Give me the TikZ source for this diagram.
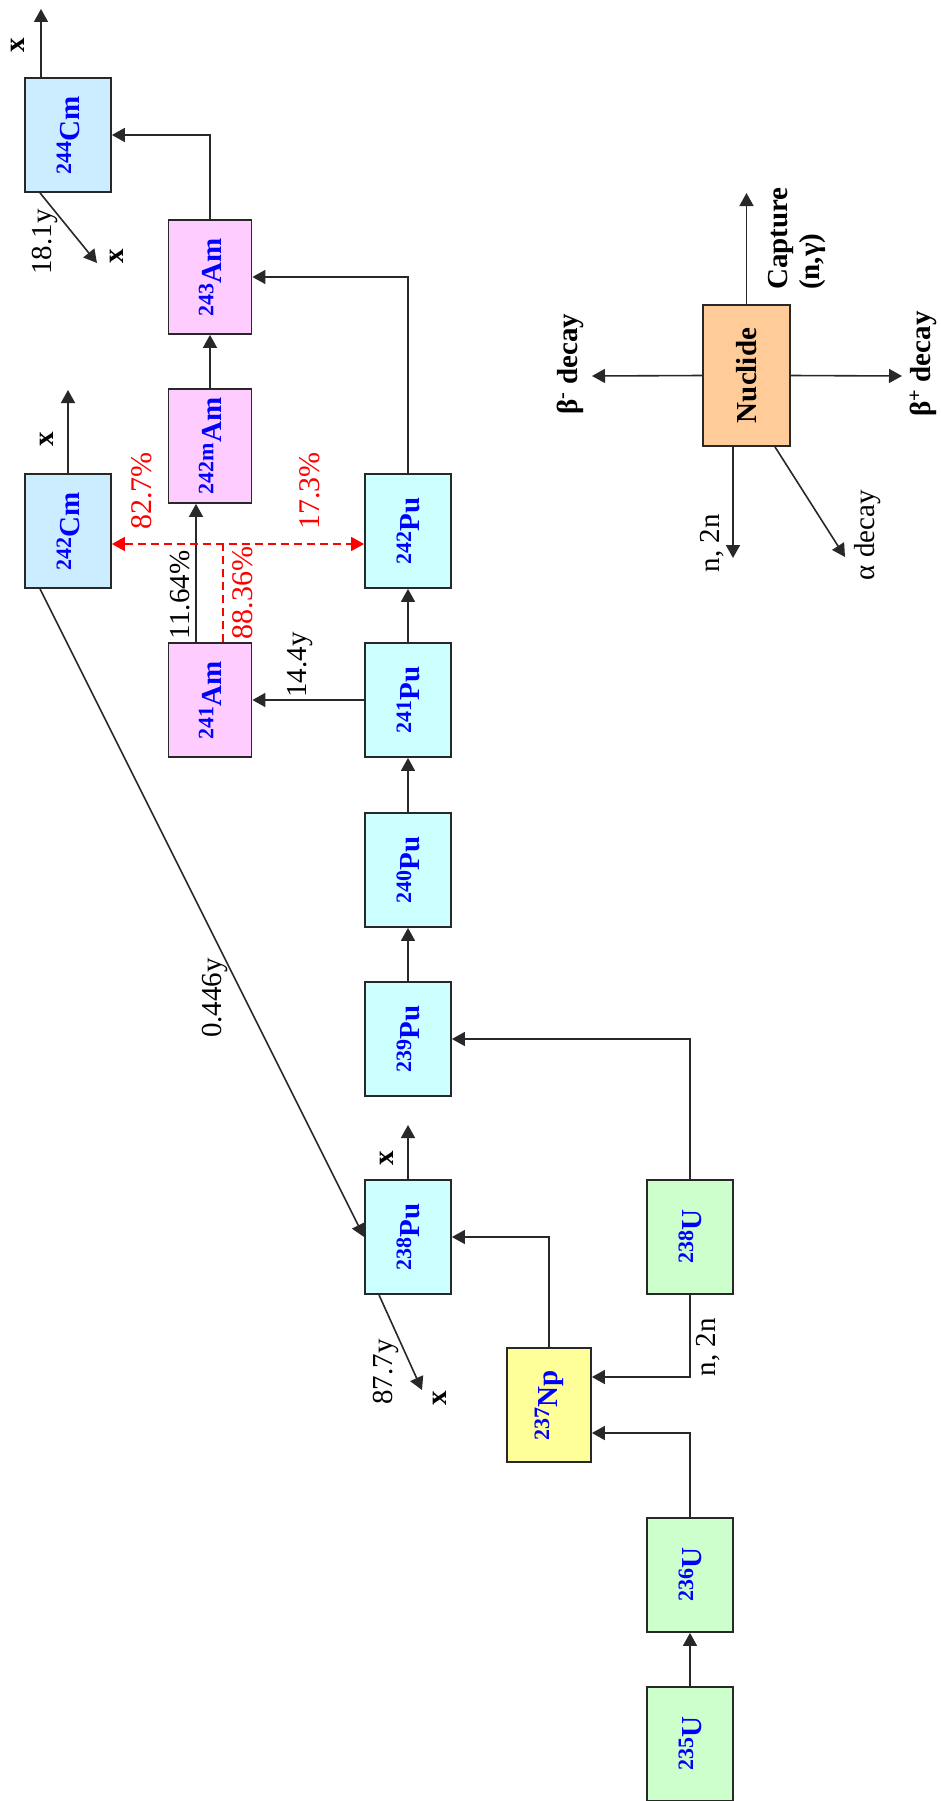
\documentclass[tikz,border=0pt]{standalone}
\usepackage{fontspec}
\setmainfont{Liberation Serif}
\usetikzlibrary{arrows.meta}
\definecolor{cmc}{RGB}{204,236,255}
\definecolor{puc}{RGB}{204,255,255}
\definecolor{amc}{RGB}{255,204,255}
\definecolor{uc}{RGB}{204,255,204}
\definecolor{npc}{RGB}{255,255,153}
\definecolor{nucc}{RGB}{255,204,153}
\definecolor{lnc}{RGB}{40,40,40}
\newcommand{\myrot}[1]{\rotatebox{90}{#1}}
\newcommand{\iso}[2]{{\fontsize{22}{22}\selectfont\raisebox{8pt}{#1}}#2}
\begin{document}
\begin{tikzpicture}[x=1pt,y=-1pt,
  box/.style={draw=lnc, line width=1.8pt, minimum width=86pt, minimum height=114pt, inner sep=0pt, font=\fontsize{29}{31}\selectfont\bfseries, text=blue},
  arr/.style={draw=lnc, line width=1.6pt, -{Triangle[length=13pt,width=14pt]}},
  lab/.style={inner sep=0pt, font=\fontsize{29}{32}\selectfont},
  blab/.style={inner sep=0pt, font=\fontsize{29}{32}\selectfont\bfseries},
  rlab/.style={inner sep=0pt, font=\fontsize{30}{32}\selectfont, text=red},
  rdash/.style={draw=red, line width=1.6pt, dash pattern=on 8pt off 5pt},
  rarr/.style={rdash, {Triangle[length=13pt,width=14pt]}-{Triangle[length=13pt,width=14pt]}}
  ]
\useasboundingbox (0,0) rectangle (941,1801);
\fill[white] (0,0) rectangle (941,1801);

% boxes
\node[box, fill=cmc] (cm244) at (68,135) {\myrot{\iso{244}{Cm}}};
\node[box, fill=amc, minimum width=83pt] (am243) at (210,277) {\myrot{\iso{243}{Am}}};
\node[box, fill=amc, minimum width=83pt] (am242m) at (210,446) {\myrot{\iso{242m}{Am}}};
\node[box, fill=cmc] (cm242) at (68,531) {\myrot{\iso{242}{Cm}}};
\node[box, fill=amc, minimum width=83pt] (am241) at (210,700) {\myrot{\iso{241}{Am}}};
\node[box, fill=puc] (pu242) at (408,531) {\myrot{\iso{242}{Pu}}};
\node[box, fill=puc] (pu241) at (408,700) {\myrot{\iso{241}{Pu}}};
\node[box, fill=puc] (pu240) at (408,870) {\myrot{\iso{240}{Pu}}};
\node[box, fill=puc] (pu239) at (408,1039) {\myrot{\iso{239}{Pu}}};
\node[box, fill=puc] (pu238) at (408,1237) {\myrot{\iso{238}{Pu}}};
\node[box, fill=npc, minimum width=84pt] (np237) at (549,1405) {\myrot{\iso{237}{Np}}};
\node[box, fill=uc] (u238) at (690,1237) {\myrot{\iso{238}{U}}};
\node[box, fill=uc] (u236) at (690,1575) {\myrot{\iso{236}{U}}};
\node[box, fill=uc] (u235) at (690,1744) {\myrot{\iso{235}{U}}};
\node[box, fill=nucc, text=black, minimum width=87pt, minimum height=141pt] (nuc) at (746.5,375.5) {\myrot{Nuclide}};

% helper coordinates
\coordinate (k40) at (40,0);
\coordinate (k196) at (196,0);
\coordinate (k223) at (223,0);
\coordinate (k379) at (379,0);
\coordinate (k733) at (733,0);
\coordinate (k775) at (775,0);
\coordinate (k1377) at (0,1377);
\coordinate (k1433) at (0,1433);
\coordinate (sp) at (223,544);
\coordinate (e1) at (41,9);
\coordinate (e2) at (97,263);
\coordinate (e3) at (68,390);
\coordinate (e4) at (408,1125);
\coordinate (e5) at (422,1390);
\coordinate (l1) at (746.5,193);
\coordinate (l2) at (592,376);
\coordinate (l3) at (902,376);
\coordinate (l4) at (733,558);
\coordinate (l5) at (845,557);

% 244Cm
\draw[arr] (cm244.north -| e1) -- (e1);
\node[blab] (tx1) at (18,45) {\myrot{x}};
\draw[arr] (cm244.south -| k40) -- (e2);
\node[lab] (t181) at (45,242) {\myrot{18.1y}};
\node[blab] (tx2) at (117,256) {\myrot{x}};
\draw[arr] (am243.north) |- (cm244.east);
\draw[arr] (am242m.north) -- (am243.south);
\draw[arr] (pu242.north) |- (am243.east);

% 242Cm
\draw[arr] (cm242.north) -- (e3);
\node[blab] (tx3) at (47,439) {\myrot{x}};
\draw[arr] (cm242.south -| k40) -- (pu238.west);
\node[lab] (t0446) at (215,998) {\myrot{0.446y}};

% 241Am branches
\draw[arr] (am241.north -| k196) -- (am242m.south -| k196);
\node[lab] (t1164) at (180,595) {\myrot{11.64\%}};
\draw[rdash] (am241.north -| k223) -- (sp);
\draw[rarr] (cm242.east |- sp) -- (pu242.west |- sp);
\node[rlab] (t8836) at (243,593) {\myrot{88.36\%}};
\node[rlab] (t827) at (142,491) {\myrot{82.7\%}};
\node[rlab] (t173) at (310,491) {\myrot{17.3\%}};

% Pu chain
\draw[arr] (pu241.west) -- (am241.east);
\node[lab] (t144) at (300,665) {\myrot{14.4y}};
\draw[arr] (pu241.north) -- (pu242.south);
\draw[arr] (pu240.north) -- (pu241.south);
\draw[arr] (pu239.north) -- (pu240.south);
\draw[arr] (pu238.north) -- (e4);
\node[blab] (tx4) at (387,1158) {\myrot{x}};
\draw[arr] (pu238.south -| k379) -- (e5);
\node[lab] (t877) at (386,1372) {\myrot{87.7y}};
\node[blab] (tx5) at (440,1398) {\myrot{x}};

% Np, U
\draw[arr] (np237.north) |- (pu238.east);
\draw[arr] (u238.south) |- (np237.east |- k1377);
\node[lab] (tn2n) at (708,1347) {\myrot{n, 2n}};
\draw[arr] (u236.north) |- (np237.east |- k1433);
\draw[arr] (u235.north) -- (u236.south);
\draw[arr] (u238.north) |- (pu239.east);

% legend
\draw[arr] (nuc.north) -- (l1);
\node[blab, anchor=south] (tcap) at (797,290) {\myrot{\begin{tabular}{@{}l@{}}Capture\\(n,γ)\end{tabular}}};
\draw[arr] (nuc.west) -- (l2);
\node[blab] (tbm) at (570,364) {\myrot{β\textsuperscript{-} decay}};
\draw[arr] (nuc.east) -- (l3);
\node[blab] (tbp) at (923,364) {\myrot{β\textsuperscript{+} decay}};
\draw[arr] (nuc.south -| k733) -- (l4);
\node[lab] (tn2nb) at (712,543) {\myrot{n, 2n}};
\draw[arr] (nuc.south -| k775) -- (l5);
\node[lab] (talpha) at (868,535) {\myrot{α decay}};
\end{tikzpicture}
\end{document}
